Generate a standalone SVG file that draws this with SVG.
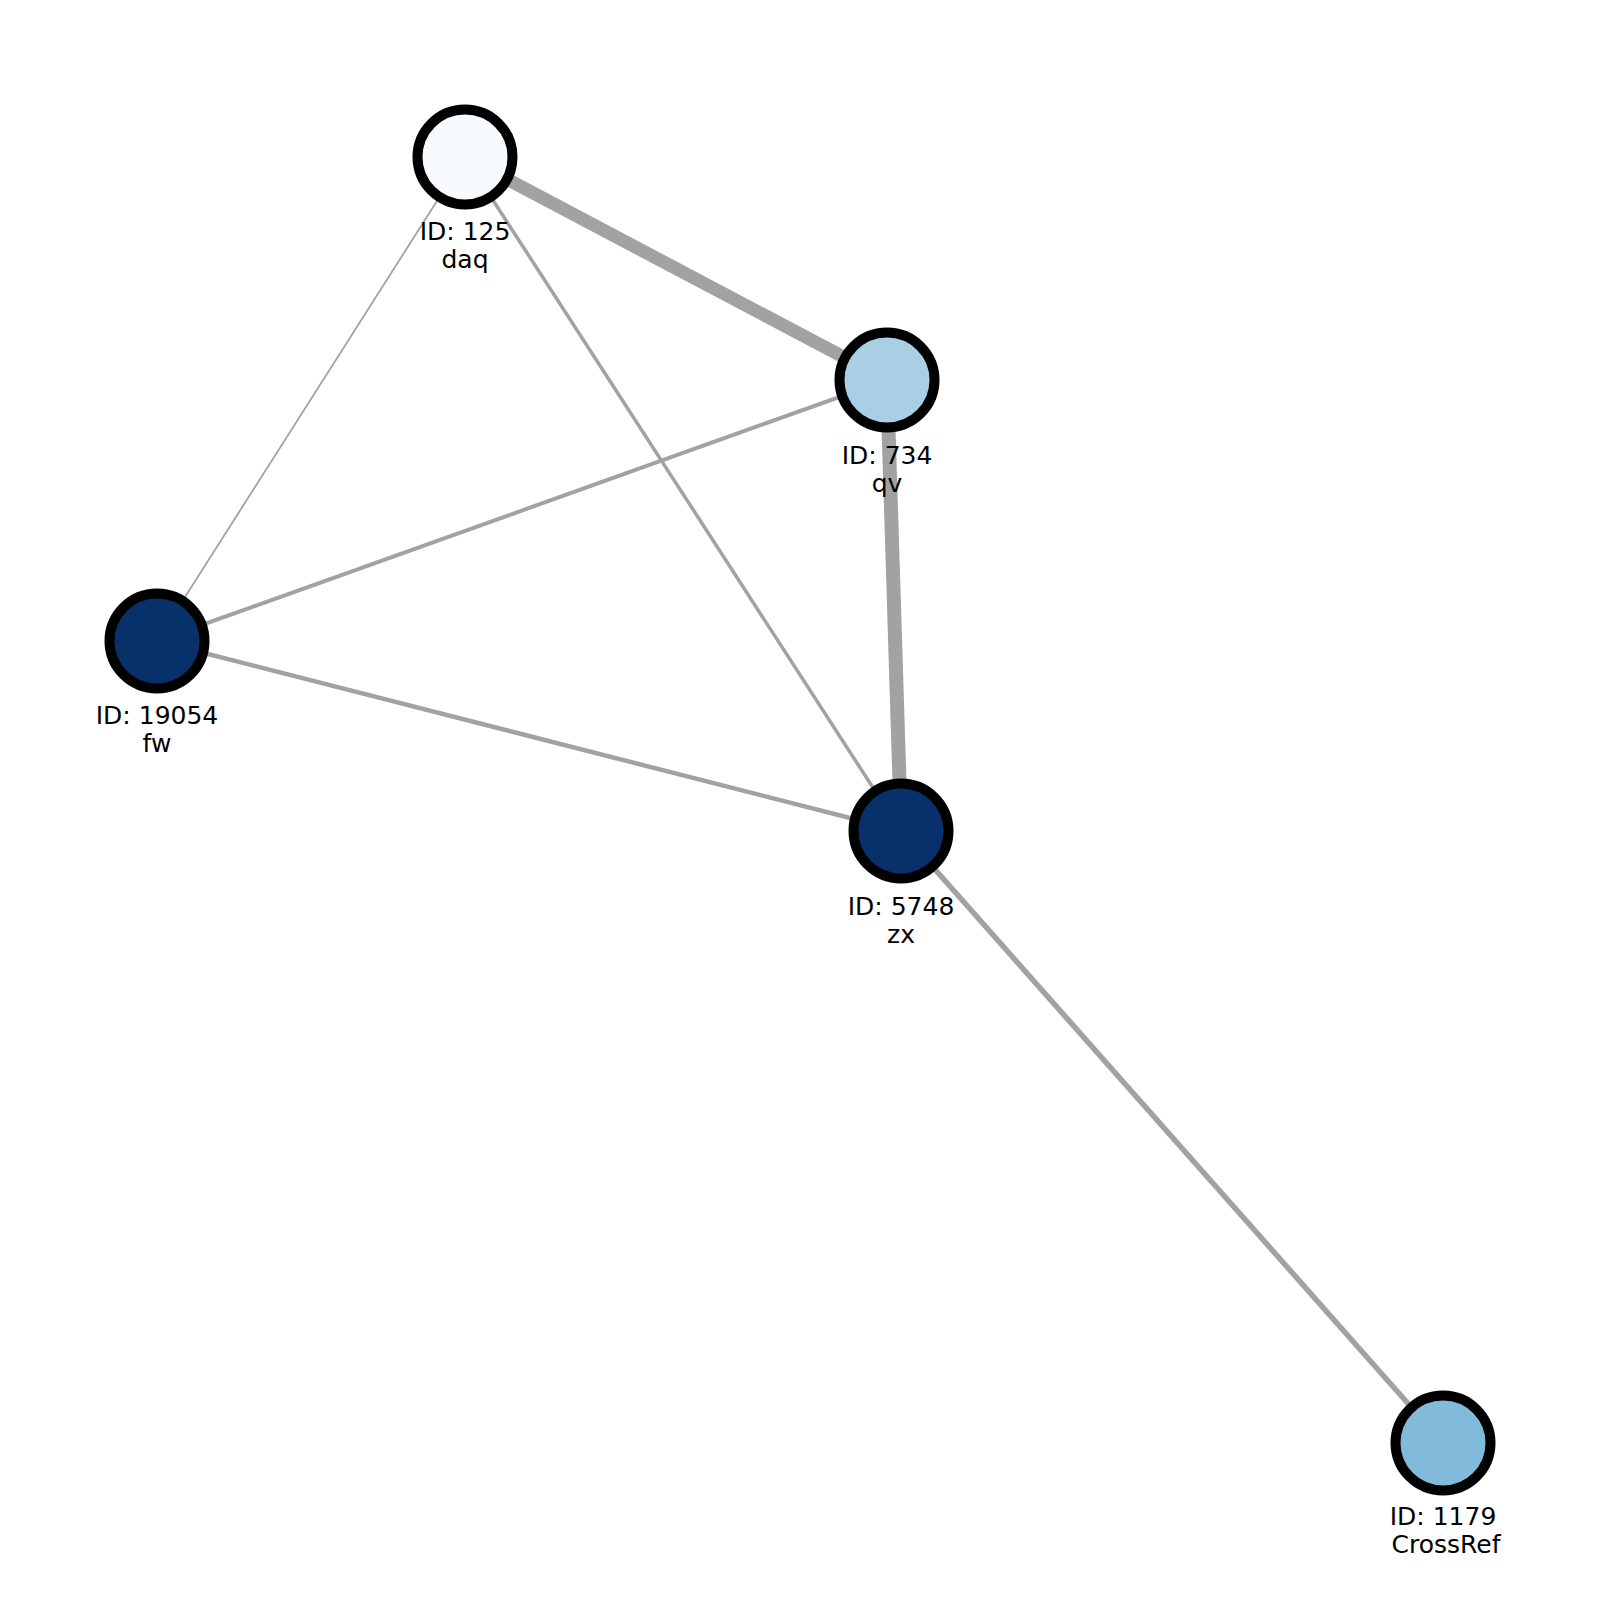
<svg xmlns="http://www.w3.org/2000/svg" width="1600" height="1600" viewBox="0 0 1600 1600">
<style>
.e{stroke:#a2a2a2;stroke-linecap:butt;fill:none}
.n{stroke:#000;stroke-width:10}
.t{font-family:"DejaVu Sans",sans-serif;font-size:25px;fill:#000;text-anchor:middle}
</style>
<rect width="1600" height="1600" fill="#fff"/>
<g id="edges">
<line class="e" x1="465" y1="157" x2="887" y2="380" stroke-width="13"/>
<line class="e" x1="887" y1="380" x2="901" y2="831" stroke-width="14"/>
<line class="e" x1="465" y1="157" x2="157" y2="641" stroke-width="1.8"/>
<line class="e" x1="465" y1="157" x2="901" y2="831" stroke-width="3.5"/>
<line class="e" x1="157" y1="641" x2="887" y2="380" stroke-width="4"/>
<line class="e" x1="157" y1="641" x2="901" y2="831" stroke-width="4.5"/>
<line class="e" x1="901" y1="831" x2="1443" y2="1443" stroke-width="5.5"/>
</g>
<g id="node-daq">
<circle class="n" cx="465" cy="157" r="47.5" fill="#f7fbff"/>
<text class="t" x="465" y="240">ID: 125</text>
<text class="t" x="465" y="268">daq</text>
</g>
<g id="node-qv">
<circle class="n" cx="887" cy="380" r="47.5" fill="#a9cfe5"/>
<text class="t" x="887" y="464">ID: 734</text>
<text class="t" x="887" y="492">qv</text>
</g>
<g id="node-fw">
<circle class="n" cx="157" cy="641" r="47.5" fill="#08306b"/>
<text class="t" x="157" y="724">ID: 19054</text>
<text class="t" x="157" y="752">fw</text>
</g>
<g id="node-zx">
<circle class="n" cx="901" cy="831" r="47.5" fill="#08306b"/>
<text class="t" x="901" y="915">ID: 5748</text>
<text class="t" x="901" y="943">zx</text>
</g>
<g id="node-crossref">
<circle class="n" cx="1443" cy="1443" r="47.5" fill="#82badb"/>
<text class="t" x="1443" y="1525">ID: 1179</text>
<text class="t" x="1446" y="1553">CrossRef</text>
</g>
</svg>
